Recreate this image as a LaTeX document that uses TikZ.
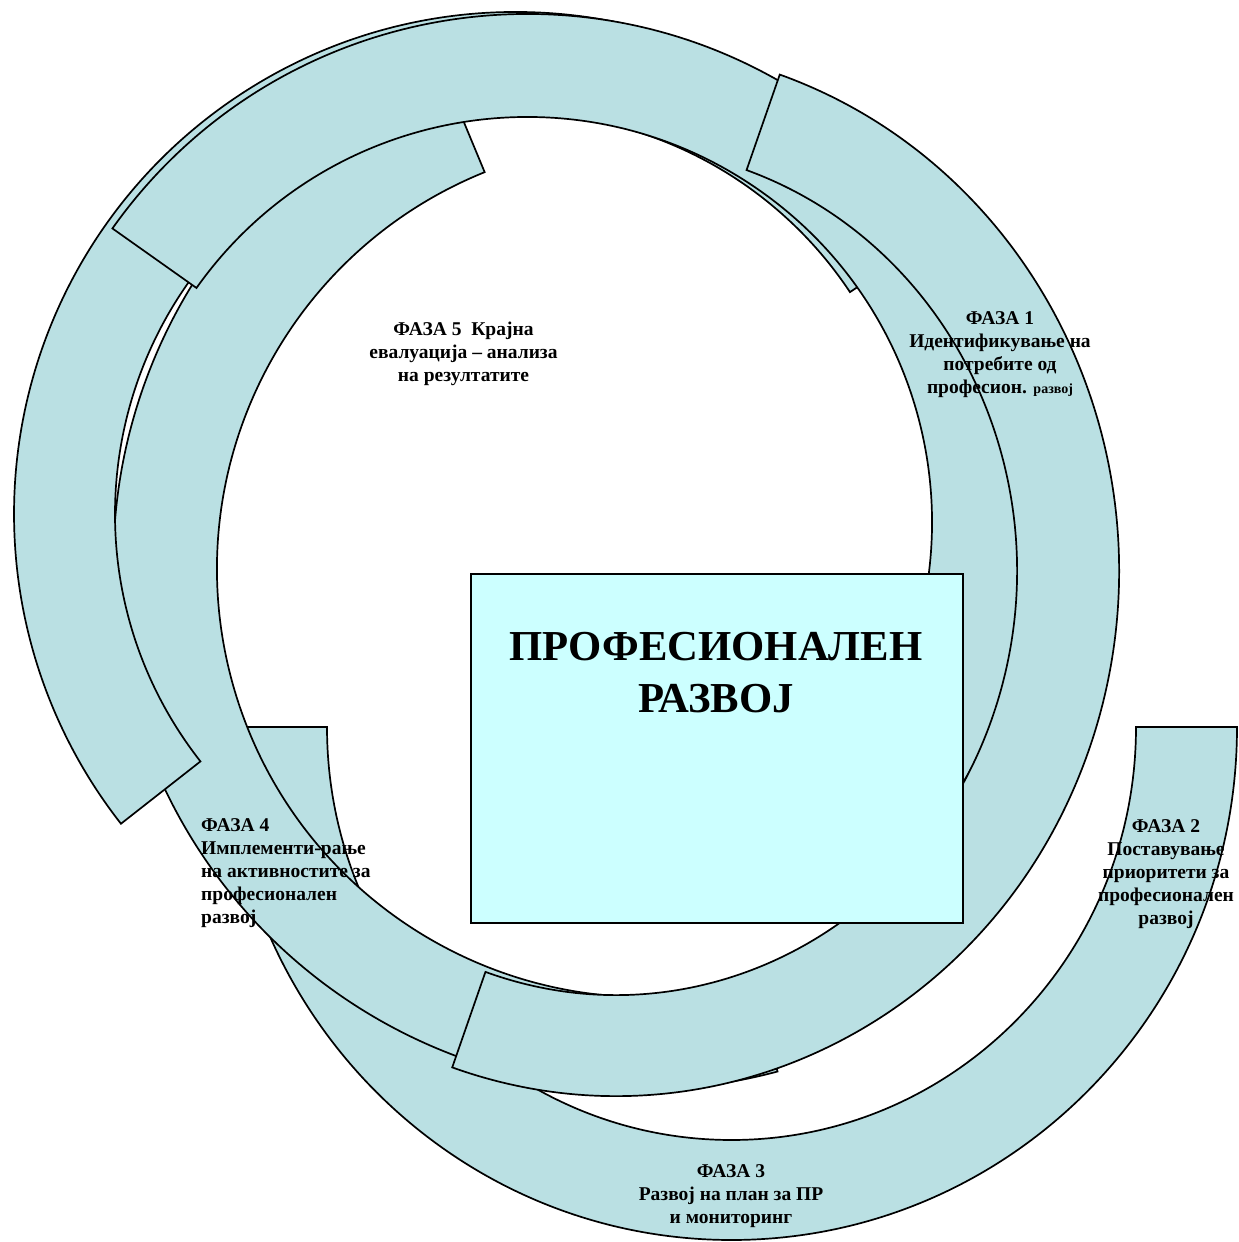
\documentclass[tikz,border=0pt]{standalone}
\usepackage{fontspec}
\setmainfont{Liberation Serif}
\usetikzlibrary{calc}
\definecolor{bandfill}{RGB}{186,224,227}
\definecolor{boxfill}{RGB}{204,255,255}
\begin{document}
\begin{tikzpicture}[x=1pt,y=1pt,
  band/.style={fill=bandfill,draw=black,line width=1.7pt,line join=miter},
  phase/.style={font=\bfseries\fontsize{19.5}{23}\selectfont,inner sep=0pt,anchor=base,align=center},
]
\useasboundingbox (0,0) rectangle (1239,1242);
% centres
\coordinate (cL) at (731.5,515);
\coordinate (cILo) at (641,680);
\coordinate (cILi) at (645,673);
\coordinate (cOL) at (516,728);
\coordinate (cT) at (527,720);
\coordinate (cR) at (616,671);
% lower arc (phases 2 and 3)
\draw[band] ($(cL)+(0:505.5 and 513)$) arc[start angle=0,end angle=-180,x radius=505.5,y radius=513]
  -- ($(cL)+(-180:404.5 and 413)$) arc[start angle=-180,end angle=0,x radius=404.5,y radius=413] -- cycle;
% inner left arc
\draw[band] ($(cILo)+(112:527.5)$) arc[start angle=112,end angle=285,radius=527.5]
  -- ($(cILi)+(285:428)$) arc[start angle=285,end angle=112,radius=428] -- cycle;
% outer left arc
\draw[band] ($(cOL)+(33.6:502)$) arc[start angle=33.6,end angle=218.1,radius=502]
  -- ($(cOL)+(218.1:401)$) arc[start angle=218.1,end angle=33.6,radius=401] -- cycle;
% top arc
\draw[band] ($(cT)+(144.7:508)$) arc[start angle=144.7,end angle=-35,radius=508]
  -- ($(cT)+(-35:405)$) arc[start angle=-35,end angle=144.7,radius=405] -- cycle;
% right arc (phase 1)
\draw[band] ($(cR)+(71:503 and 525)$) arc[start angle=71,end angle=-109,x radius=503,y radius=525]
  -- ($(cR)+(-109:401 and 424)$) arc[start angle=-109,end angle=71,x radius=401,y radius=424] -- cycle;
% central box
\node (box) [draw=black,line width=1.7pt,fill=boxfill,minimum width=492pt,minimum height=349pt,inner sep=0pt,anchor=south west] at (470,318) {};
\node (title) [font=\bfseries\fontsize{42.7}{52}\selectfont,inner sep=0pt,anchor=base,align=center] at (716,529) {ПРОФЕСИОНАЛЕН\\РАЗВОЈ};
% labels (anchor = baseline of the last line)
\node (t1) [phase] at (1000,848) {ФАЗА 1\\Идентификување на\\потребите од\\професион. {\fontsize{14}{23}\selectfont развој}};
\node (t2) [phase] at (1166,317) {ФАЗА 2\\Поставување\\приоритети за\\професионален\\развој};
\node (t3) [phase] at (731,19) {ФАЗА 3\\Развој на план за ПР\\и мониторинг};
\node (t4) [phase,align=left,anchor=base west] at (201,318) {ФАЗА 4\\Имплементи-рање\\на активностите за\\професионален\\развој};
\node (t5) [phase] at (463.5,860) {ФАЗА 5\ \ Крајна\\евалуација – анализа\\на резултатите};
\end{tikzpicture}
\end{document}
